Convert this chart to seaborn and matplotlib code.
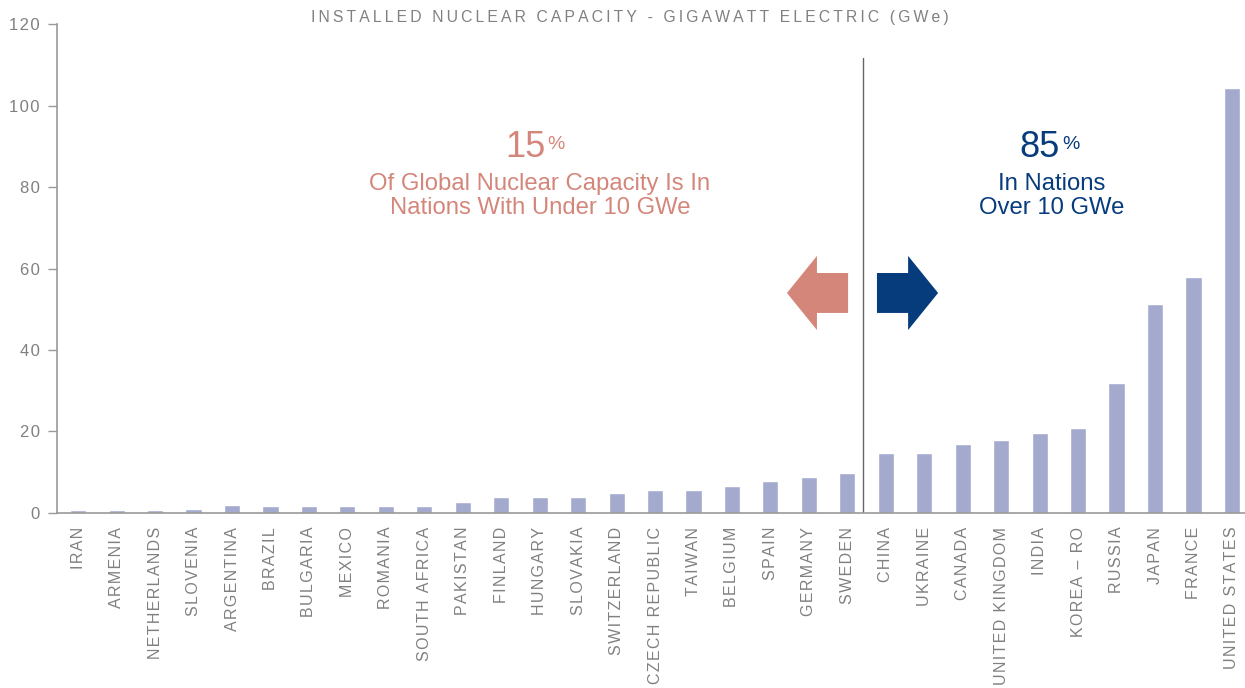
"""Capacidade nuclear instalada por país (GWe), com divisão 15% / 85%."""
import matplotlib
matplotlib.use("Agg")
import matplotlib.pyplot as plt
from matplotlib.patches import Polygon
import seaborn as sns

countries = [
    "IRAN", "ARMENIA", "NETHERLANDS", "SLOVENIA", "ARGENTINA", "BRAZIL",
    "BULGARIA", "MEXICO", "ROMANIA", "SOUTH AFRICA", "PAKISTAN", "FINLAND",
    "HUNGARY", "SLOVAKIA", "SWITZERLAND", "CZECH REPUBLIC", "TAIWAN",
    "BELGIUM", "SPAIN", "GERMANY", "SWEDEN", "CHINA", "UKRAINE", "CANADA",
    "UNITED KINGDOM", "INDIA", "KOREA – RO", "RUSSIA", "JAPAN", "FRANCE",
    "UNITED STATES",
]
gwe = [
    0.7, 0.7, 0.7, 1.0, 2.0, 1.8, 1.8, 1.8, 1.8, 1.8, 2.7, 4.0, 4.0, 4.0,
    5.0, 5.7, 5.7, 6.6, 7.9, 8.9, 9.9, 14.6, 14.8, 17.0, 17.8, 19.7, 20.9,
    31.8, 51.3, 58.0, 104.3,
]
y_ticks = [0, 20, 40, 60, 80, 100, 120]

BAR = "#a3aacd"
SALMON = "#d5867a"
NAVY = "#063b7c"
GREY = "#808080"

sns.set_style("white")
plt.rcParams["font.family"] = ["Liberation Sans", "DejaVu Sans"]


def spaced(s, sep="\u200a"):
    return sep.join(s)


fig = plt.figure(figsize=(12.45, 6.88), dpi=100)
ax = fig.add_axes([0.0458, 0.2544, 0.9542, 0.7106])

sns.barplot(x=countries, y=gwe, color=BAR, saturation=1, width=0.42, ax=ax)

n = len(countries)
ax.set_xlim(-0.55, n - 1 + 0.34)
ax.set_ylim(0, 120)
ax.set_yticks(y_ticks)
ax.set_yticklabels([spaced(str(t)) for t in y_ticks])
ax.set_xticks(range(n))
ax.set_xticklabels([spaced(c) for c in countries], rotation=90, va="top")

for side in ["top", "right"]:
    ax.spines[side].set_visible(False)
for side in ["left", "bottom"]:
    ax.spines[side].set_color("#999999")
    ax.spines[side].set_linewidth(1.2)
ax.tick_params(axis="y", length=6.5, width=1, color="#999999", pad=6,
               labelsize=12, labelcolor=GREY, left=True)
ax.tick_params(axis="x", length=0, pad=10, labelsize=11.5, labelcolor=GREY)
ax.set_xlabel("")
ax.set_ylabel("")

# divisória entre grupos (< 10 GWe / > 10 GWe)
ax.axvline(20.4, ymax=0.93, color="#666666", lw=1)

# setas
left_arrow = [(18.43, 54.0), (19.21, 63.1), (19.21, 58.9), (20.02, 58.9),
              (20.02, 49.1), (19.21, 49.1), (19.21, 44.9)]
right_arrow = [(22.36, 54.0), (21.58, 63.1), (21.58, 58.9), (20.77, 58.9),
               (20.77, 49.1), (21.58, 49.1), (21.58, 44.9)]
ax.add_patch(Polygon(left_arrow, closed=True, color=SALMON, lw=0))
ax.add_patch(Polygon(right_arrow, closed=True, color=NAVY, lw=0))

# textos
ax.text(12.14, 87.4, "15", color=SALMON, fontsize=26, ha="right", va="baseline")
ax.text(12.2, 89.3, "%", color=SALMON, fontsize=14, ha="left", va="baseline")
ax.text(12.01, 73.4, "Of Global Nuclear Capacity Is In\nNations With Under 10 GWe",
        color=SALMON, fontsize=17.2, ha="center", va="baseline", linespacing=1.12,
        multialignment="center")
ax.text(25.53, 87.4, "85", color=NAVY, fontsize=26, ha="right", va="baseline")
ax.text(25.6, 89.3, "%", color=NAVY, fontsize=14, ha="left", va="baseline")
ax.text(25.32, 73.4, "In Nations\nOver 10 GWe", color=NAVY, fontsize=17.2,
        ha="center", va="baseline", linespacing=1.12, multialignment="center")

fig.text(0.506, 0.974,
         spaced("INSTALLED NUCLEAR CAPACITY - GIGAWATT ELECTRIC (GWe)", "\u2009"),
         ha="center", va="center", fontsize=11.3, color=GREY)

fig.savefig("out.png", dpi=100)
